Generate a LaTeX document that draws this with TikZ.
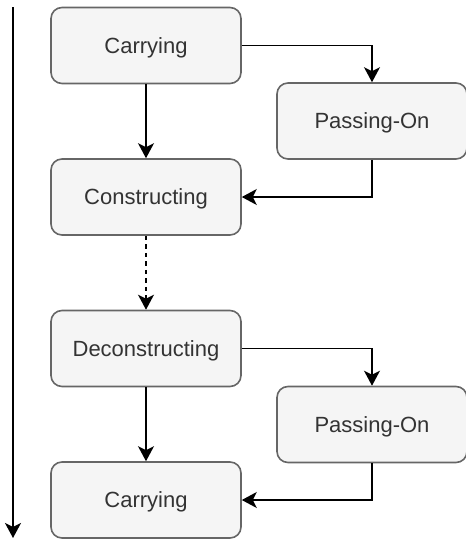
\documentclass[tikz,border=0pt]{standalone}
\usepackage{fontspec}
\setmainfont{Liberation Sans}
\usetikzlibrary{arrows.meta}
\definecolor{boxfill}{HTML}{F5F5F5}
\definecolor{boxline}{HTML}{666666}
\definecolor{txt}{HTML}{333333}
\tikzset{
  stage/.style={draw=boxline, fill=boxfill, line width=1.6pt, rounded corners=11pt,
    minimum width=190pt, minimum height=76pt, inner sep=0pt, text=txt,
    text height=15.8pt, text depth=0pt,
    font=\fontsize{22}{26}\selectfont},
  flow/.style={line width=1.6pt, -{Stealth[length=15pt,width=16pt,inset=4pt]}},
}
\begin{document}
\begin{tikzpicture}[x=1pt,y=-1pt]
\useasboundingbox (0,0) rectangle (466,539);
\node[stage] (carry1) at (146,45.5) {Carrying};
\node[stage] (pass1) at (372,121) {Passing-On};
\node[stage] (constr) at (146,197) {Constructing};
\node[stage] (decon) at (146,348.5) {Deconstructing};
\node[stage] (pass2) at (372,424.5) {Passing-On};
\node[stage] (carry2) at (146,500) {Carrying};
\coordinate (timetop) at (13,7);
\coordinate (timebot) at (13,538);
\draw[flow] (timetop) -- (timebot);
\draw[flow] (carry1) -- (constr);
\draw[flow] (carry1.east) -| (pass1.north);
\draw[flow] (pass1.south) |- (constr.east);
\draw[flow, dash pattern=on 4.5pt off 4pt] (constr) -- (decon);
\draw[flow] (decon) -- (carry2);
\draw[flow] (decon.east) -| (pass2.north);
\draw[flow] (pass2.south) |- (carry2.east);
\end{tikzpicture}
\end{document}
